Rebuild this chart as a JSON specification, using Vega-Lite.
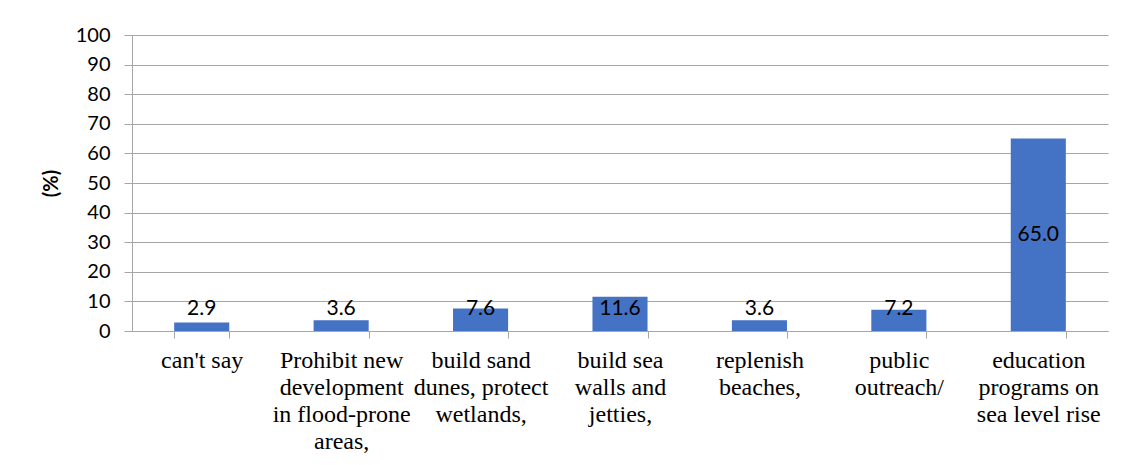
{
  "$schema": "https://vega.github.io/schema/vega-lite/v6.json",
  "width": 976,
  "height": 296,
  "autosize": "none",
  "padding": {"left": 132, "top": 35, "right": 18, "bottom": 134},
  "background": "white",
  "config": {"view": {"stroke": null}},
  "data": {
    "values": [
      {"category": "can't say", "pct": 2.9},
      {"category": "Prohibit new|development|in flood-prone|areas,", "pct": 3.6},
      {"category": "build sand|dunes, protect|wetlands,", "pct": 7.6},
      {"category": "build sea|walls and|jetties,", "pct": 11.6},
      {"category": "replenish|beaches,", "pct": 3.6},
      {"category": "public|outreach/", "pct": 7.2},
      {"category": "education|programs on|sea level rise", "pct": 65.0}
    ]
  },
  "encoding": {
    "x": {
      "field": "category",
      "type": "nominal",
      "sort": null,
      "scale": {"paddingInner": 0.605, "paddingOuter": 0.3025},
      "axis": {
        "title": null,
        "labelExpr": "isValid(datum.value) ? split(datum.value, '|') : ''",
        "labelAngle": 0,
        "labelFont": "Liberation Serif, Times New Roman, serif",
        "labelFontSize": 24,
        "labelLineHeight": 27,
        "labelColor": "#000000",
        "labelPadding": 10,
        "labelBaseline": "top",
        "labelLimit": 0,
        "labelOverlap": false,
        "ticks": true,
        "tickBand": "extent",
        "tickSize": 7,
        "tickColor": "#a6a6a6",
        "domainColor": "#a6a6a6"
      }
    }
  },
  "layer": [
    {
      "mark": {"type": "bar", "color": "#4472C4"},
      "encoding": {
        "y": {
          "field": "pct",
          "type": "quantitative",
          "scale": {"domain": [0, 100]},
          "axis": {
            "title": "(%)",
            "values": [0, 10, 20, 30, 40, 50, 60, 70, 80, 90, 100],
            "labelOverlap": false,
            "grid": true,
            "gridColor": "#a6a6a6",
            "tickColor": "#a6a6a6",
            "tickSize": 8,
            "domainColor": "#a6a6a6",
            "labelFont": "Lato",
            "labelFontSize": 20,
            "labelColor": "#000000",
            "labelPadding": 14,
            "titleFont": "Lato",
            "titleFontSize": 20,
            "titleFontWeight": "bold",
            "titleColor": "#000000",
            "titlePadding": 14
          }
        }
      }
    },
    {
      "transform": [{"calculate": "max(datum.pct / 2, 7.3)", "as": "labelY"}],
      "mark": {"type": "text", "font": "Lato", "fontSize": 21, "color": "#000000", "baseline": "middle"},
      "encoding": {
        "y": {
          "field": "labelY",
          "type": "quantitative",
          "scale": {"domain": [0, 100]},
          "axis": {
            "title": "(%)",
            "values": [0, 10, 20, 30, 40, 50, 60, 70, 80, 90, 100],
            "labelOverlap": false,
            "grid": true,
            "gridColor": "#a6a6a6",
            "tickColor": "#a6a6a6",
            "tickSize": 8,
            "domainColor": "#a6a6a6",
            "labelFont": "Lato",
            "labelFontSize": 20,
            "labelColor": "#000000",
            "labelPadding": 14,
            "titleFont": "Lato",
            "titleFontSize": 20,
            "titleFontWeight": "bold",
            "titleColor": "#000000",
            "titlePadding": 14
          }
        },
        "text": {"field": "pct", "type": "quantitative", "format": ".1f"}
      }
    }
  ]
}
